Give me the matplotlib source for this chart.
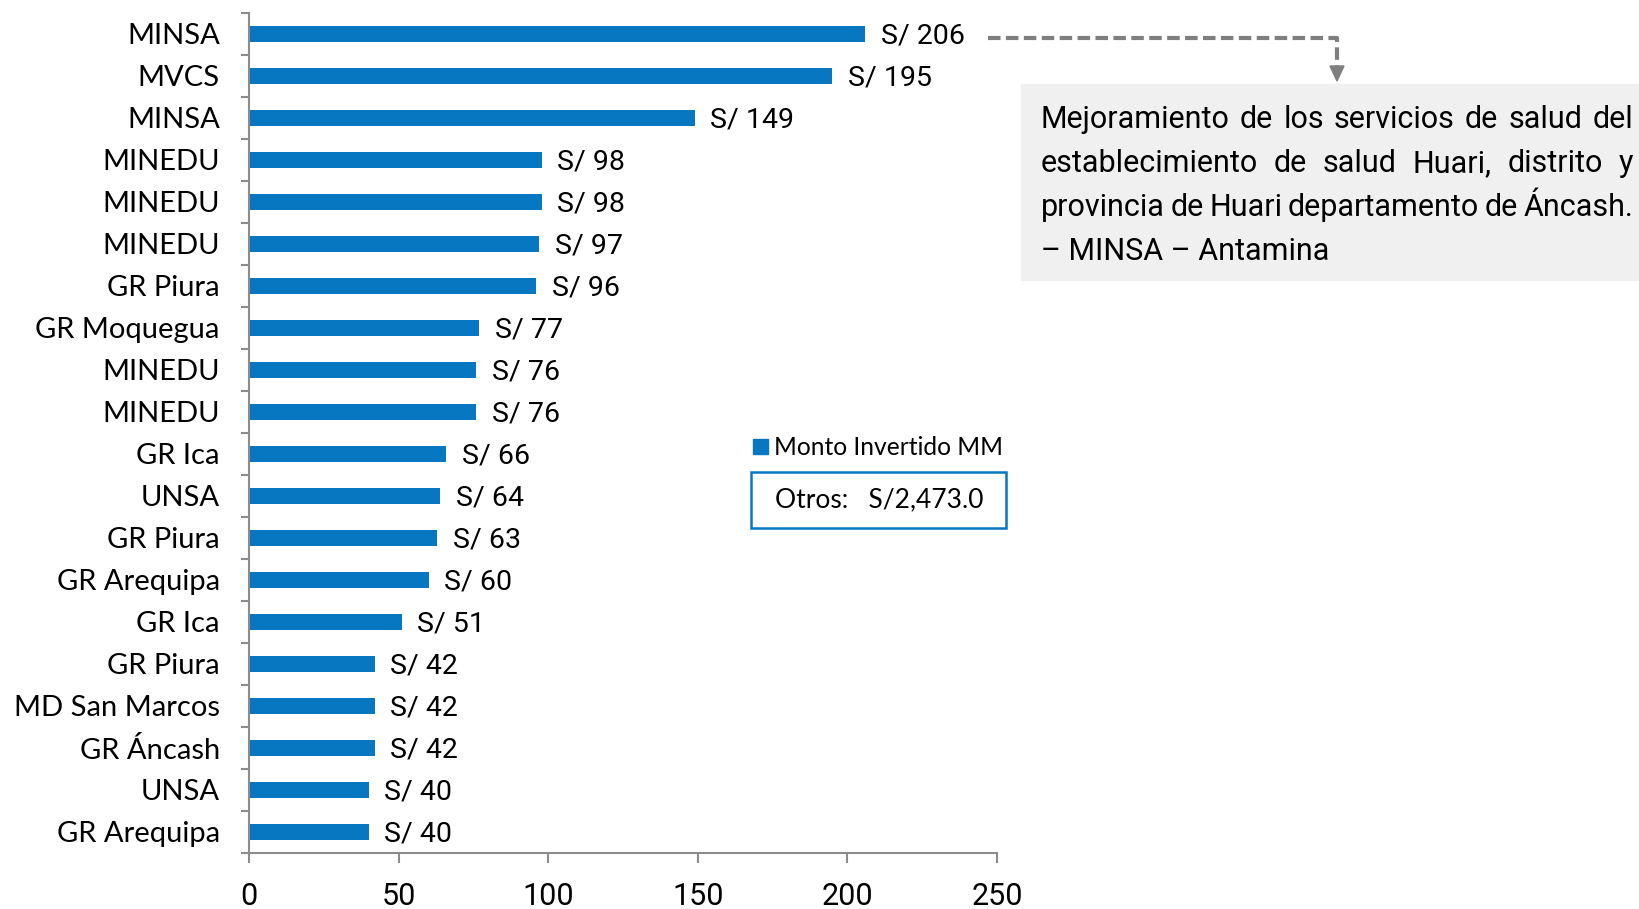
import matplotlib
matplotlib.use('Agg')
import matplotlib.pyplot as plt
from matplotlib.patches import Rectangle, Polygon
from matplotlib.lines import Line2D

# datos
entidades = ['MINSA', 'MVCS', 'MINSA', 'MINEDU', 'MINEDU', 'MINEDU', 'GR Piura',
             'GR Moquegua', 'MINEDU', 'MINEDU', 'GR Ica', 'UNSA', 'GR Piura',
             'GR Arequipa', 'GR Ica', 'GR Piura', 'MD San Marcos', 'GR Áncash',
             'UNSA', 'GR Arequipa']
montos = [206, 195, 149, 98, 98, 97, 96, 77, 76, 76, 66, 64, 63, 60, 51, 42, 42, 42, 40, 40]
ticks_x = [0, 50, 100, 150, 200, 250]
serie = 'Monto Invertido MM'
otros = 'Otros:   S/2,473.0'
nota = ['Mejoramiento de los servicios de salud del',
        'establecimiento de salud Huari, distrito y',
        'provincia de Huari departamento de Áncash.',
        '– MINSA – Antamina']

azul = '#0677C0'
gris = '#7F7F7F'
W, H = 1640, 909
fuente = ['Lato', 'DejaVu Sans']
narrow = ['Roboto', 'Liberation Sans', 'DejaVu Sans']


def fx(px):
    return px / W


def fy(py):
    return 1 - py / H


fig = plt.figure(figsize=(W / 100, H / 100), dpi=100)
ax = fig.add_axes([fx(249), fy(853), fx(997) - fx(249), (853 - 13) / H])

y = list(range(len(montos)))
ax.barh(y, montos, height=0.4, color=azul)
ax.set_ylim(len(montos) - 0.5, -0.5)
ax.set_xlim(0, 250)

for i, v in enumerate(montos):
    ax.annotate('S/ %d' % v, (v, i), xytext=(11, -1.5), textcoords='offset points',
                va='center', ha='left', fontsize=20.5, family=narrow, color='black')

# ejes
for s in ['top', 'right']:
    ax.spines[s].set_visible(False)
for s in ['left', 'bottom']:
    ax.spines[s].set_color('#8C8C8C')
    ax.spines[s].set_linewidth(1.5)
ax.set_yticks(y)
ax.set_yticklabels(entidades, fontsize=21, family=fuente)
ax.set_yticks([i - 0.5 for i in range(len(montos) + 1)], minor=True)
ax.tick_params(axis='y', which='major', length=0, pad=21)
ax.tick_params(axis='y', which='minor', length=6, width=1.5, color='#8C8C8C')
ax.set_xticks(ticks_x)
ax.set_xticklabels([str(t) for t in ticks_x], fontsize=22, family=narrow)
ax.tick_params(axis='x', length=7, width=1.5, color='#8C8C8C', pad=14)

# leyenda
fig.patches.append(Rectangle((fx(753), fy(454)), fx(15), 15 / H, transform=fig.transFigure,
                             color=azul))
fig.text(fx(774), fy(447), serie, fontsize=17.7, family=fuente, va='center', ha='left')
fig.patches.append(Rectangle((fx(751), fy(528)), fx(255), 56 / H, transform=fig.transFigure,
                             facecolor='white', edgecolor=azul, linewidth=1.8))
fig.text(fx(879), fy(500), otros, fontsize=19, family=fuente, va='center', ha='center')

# recuadro de nota
fig.patches.append(Rectangle((fx(1021), fy(280)), fx(619), 196 / H, transform=fig.transFigure,
                             color='#F0F0F0', zorder=0))

# texto justificado, palabra por palabra
fig.canvas.draw()
r = fig.canvas.get_renderer()
x0, x1 = 1041, 1633
for k, linea in enumerate(nota):
    yy = fy(120 + 44 * k)
    palabras = linea.split(' ')
    if k == len(nota) - 1:
        fig.text(fx(x0), yy, linea, fontsize=22, family=narrow, va='center', ha='left')
        continue
    objs = [fig.text(0, yy, p, fontsize=22, family=narrow, va='center', ha='left') for p in palabras]
    anchos = [o.get_window_extent(r).width for o in objs]
    hueco = (x1 - x0 - sum(anchos)) / (len(palabras) - 1)
    xp = x0
    for o, a in zip(objs, anchos):
        o.set_x(fx(xp))
        xp += a + hueco

# flecha discontinua
fig.lines.append(Line2D([fx(988), fx(1337), fx(1337)], [fy(38), fy(38), fy(66)],
                        transform=fig.transFigure, color=gris, linewidth=3,
                        linestyle=(0, (3, 1.3))))
fig.patches.append(Polygon([(fx(1330), fy(66)), (fx(1344), fy(66)), (fx(1337), fy(81))],
                           closed=True, transform=fig.transFigure, color=gris))

fig.savefig('out.png', dpi=100)
